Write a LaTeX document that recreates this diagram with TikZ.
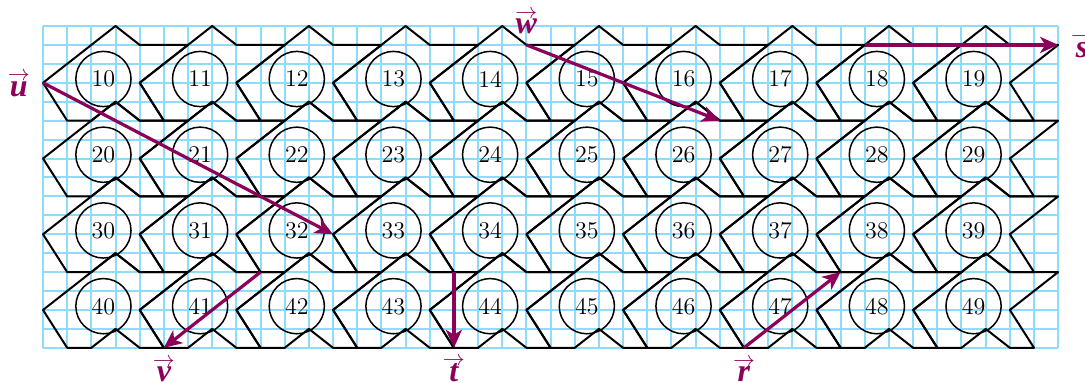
\documentclass[tikz,border=0pt]{standalone}
\usepackage{amsmath}
\usepackage{amssymb}
\usepackage{xcolor}
\usepackage{fontspec}
\usetikzlibrary{arrows.meta}
\newfontfamily\vecfont{Liberation Serif}[Scale=1]
\definecolor{gridcyan}{RGB}{140, 220, 250}
\definecolor{arrowplum}{RGB}{140, 0, 90}
\tikzset{
  gridline/.style={gridcyan, line width=1pt},
  tileline/.style={black, line width=1pt, line join=round},
  numcircle/.style={draw, circle, line width=0.75pt, minimum size=27.6pt, inner sep=0pt, font=\fontsize{12}{14}\selectfont},
  vecarrow/.style={arrowplum, line width=1.6pt, -{Stealth[length=9pt, width=8pt, inset=2.5pt]}},
  veclabel/.style={text=arrowplum, inner sep=0pt, anchor=base}
}
\newcommand{\bvec}[1]{\shortstack{{\fontsize{11}{11}\selectfont$\rightarrow$}\\[-4.25pt]{\rule{0pt}{9pt}\fontsize{16}{16}\vecfont\bfseries\itshape #1}}}

\begin{document}
\begin{tikzpicture}[x=12.085pt, y=9.465pt]
    \useasboundingbox (-1.779,-1.85) rectangle (43.11,18.373);
    \draw[gridline, xstep=1, ystep=1] (0,0) grid (42,17);
    % tiles and their numbers
    \foreach \j in {1,...,4} {
      \foreach \i in {0,...,9} {
        \begin{scope}[shift={({4*\i},{-4*(\j-1)})}]
          \draw[tileline] (0,14) -- (3,17) -- (4,16) -- (6,16) -- (4,14) -- (5,12) -- (4,12) -- (3,13) -- (2,12) -- (1,12) -- cycle;
          \node[numcircle] (n\j\i) at (2.5,14.2) {\j\i};
        \end{scope}
      }
    }
    % vectors
    \coordinate (uA) at (0,14);
    \coordinate (uB) at (12,6);
    \coordinate (wA) at (20,16);
    \coordinate (wB) at (28,12);
    \coordinate (sA) at (34,16);
    \coordinate (sB) at (42,16);
    \coordinate (vA) at (9,4);
    \coordinate (vB) at (5,0);
    \coordinate (tA) at (17,4);
    \coordinate (tB) at (17,0);
    \coordinate (rA) at (29,0);
    \coordinate (rB) at (33,4);
    \draw[vecarrow] (uA) -- (uB);
    \draw[vecarrow] (wA) -- (wB);
    \draw[vecarrow] (sA) -- (sB);
    \draw[vecarrow] (vA) -- (vB);
    \draw[vecarrow] (tA) -- (tB);
    \draw[vecarrow] (rA) -- (rB);
    \node[veclabel] (uL) at (-1.0,13.30) {\bvec{u}};
    \node[veclabel] (wL) at (20,16.58) {\bvec{w}};
    \node[veclabel] (sL) at (42.99,15.36) {\bvec{s}};
    \node[veclabel] (vL) at (5,-1.78) {\bvec{v}};
    \node[veclabel] (tL) at (17,-1.78) {\bvec{t}};
    \node[veclabel] (rL) at (29,-1.78) {\bvec{r}};
\end{tikzpicture}
\end{document}
